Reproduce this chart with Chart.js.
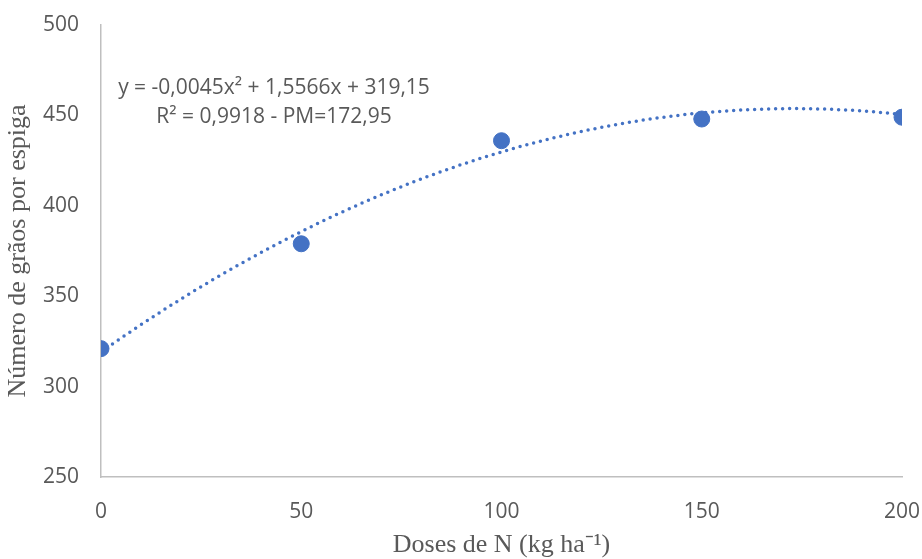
<!DOCTYPE html>
<html>
<head>
<meta charset="utf-8">
<script src="https://cdn.jsdelivr.net/npm/chart.js@4.4.0/dist/chart.umd.min.js"></script>
<style>
  html, body { margin: 0; padding: 0; background: #fff; }
  #wrap { width: 922px; height: 559px; }
</style>
</head>
<body>
<div id="wrap"><canvas id="chart"></canvas></div>
<script>
// Observed points (doses of N vs grains per ear)
const doses = [0, 50, 100, 150, 200];
const grains = [321, 379, 436, 448, 449];

// Quadratic trendline coefficients as printed on the chart (a*x^2 + b*x + c)
const trendCoef = [-0.0045, 1.5566, 319.15];
const eqLines = ['y = -0,0045x² + 1,5566x + 319,15', 'R² = 0,9918 - PM=172,95'];

const xTicks = [0, 50, 100, 150, 200];
const yTicks = [250, 300, 350, 400, 450, 500];

const blue = '#4472C4';
const grey = '#595959';

// Points along the fitted curve
const trendPts = [];
for (let x = 0; x <= 200; x += 2) {
  trendPts.push({ x: x, y: trendCoef[0] * x * x + trendCoef[1] * x + trendCoef[2] });
}

// Draw the equation text box
const eqLabel = {
  id: 'eqLabel',
  afterDatasetsDraw(chart) {
    const ctx = chart.ctx;
    ctx.save();
    ctx.font = '21px "Open Sans", sans-serif';
    ctx.fillStyle = grey;
    ctx.textAlign = 'center';
    ctx.textBaseline = 'middle';
    ctx.fillText(eqLines[0], 274, 88);
    ctx.fillText(eqLines[1], 274, 117);
    ctx.restore();
  }
};

new Chart(document.getElementById('chart'), {
  type: 'scatter',
  plugins: [eqLabel],
  data: {
    datasets: [
      {
        type: 'line',
        data: trendPts,
        borderColor: blue,
        borderWidth: 3.5,
        borderDash: [0, 7],
        borderCapStyle: 'round',
        pointRadius: 0,
        tension: 0,
        fill: false,
        order: 2
      },
      {
        data: doses.map((d, i) => ({ x: d, y: grains[i] })),
        backgroundColor: blue,
        borderColor: blue,
        pointRadius: 8,
        order: 1
      }
    ]
  },
  options: {
    responsive: true,
    maintainAspectRatio: false,
    animation: false,
    layout: { padding: { left: 0, right: 20, top: 25, bottom: 0 } },
    plugins: {
      legend: { display: false },
      tooltip: { enabled: false }
    },
    scales: {
      x: {
        type: 'linear',
        min: 0,
        max: 200,
        afterBuildTicks: (s) => { s.ticks = xTicks.map(v => ({ value: v })); },
        afterFit: (s) => { s.height = 82; s.paddingLeft = 0; s.paddingRight = 0; },
        grid: { display: false, drawTicks: false },
        border: { color: '#bfbfbf', width: 1.5 },
        ticks: { color: grey, padding: 22, font: { family: '"Open Sans", sans-serif', size: 21 } },
        title: {
          display: true,
          text: 'Doses de N (kg ha⁻¹)',
          color: grey,
          padding: { top: 2, bottom: -2 },
          font: { family: '"Liberation Serif", serif', size: 26 }
        }
      },
      y: {
        min: 250,
        max: 500,
        afterBuildTicks: (s) => { s.ticks = yTicks.map(v => ({ value: v })); },
        afterFit: (s) => { s.width = 101; s.paddingTop = 0; s.paddingBottom = 0; },
        grid: { display: false, drawTicks: false },
        border: { color: '#bfbfbf', width: 1.5 },
        ticks: { color: grey, padding: 22, font: { family: '"Open Sans", sans-serif', size: 21 } },
        title: {
          display: true,
          text: 'Número de grãos por espiga',
          color: grey,
          padding: { top: 3, bottom: 0 },
          font: { family: '"Liberation Serif", serif', size: 26 }
        }
      }
    }
  }
});
</script>
</body>
</html>
